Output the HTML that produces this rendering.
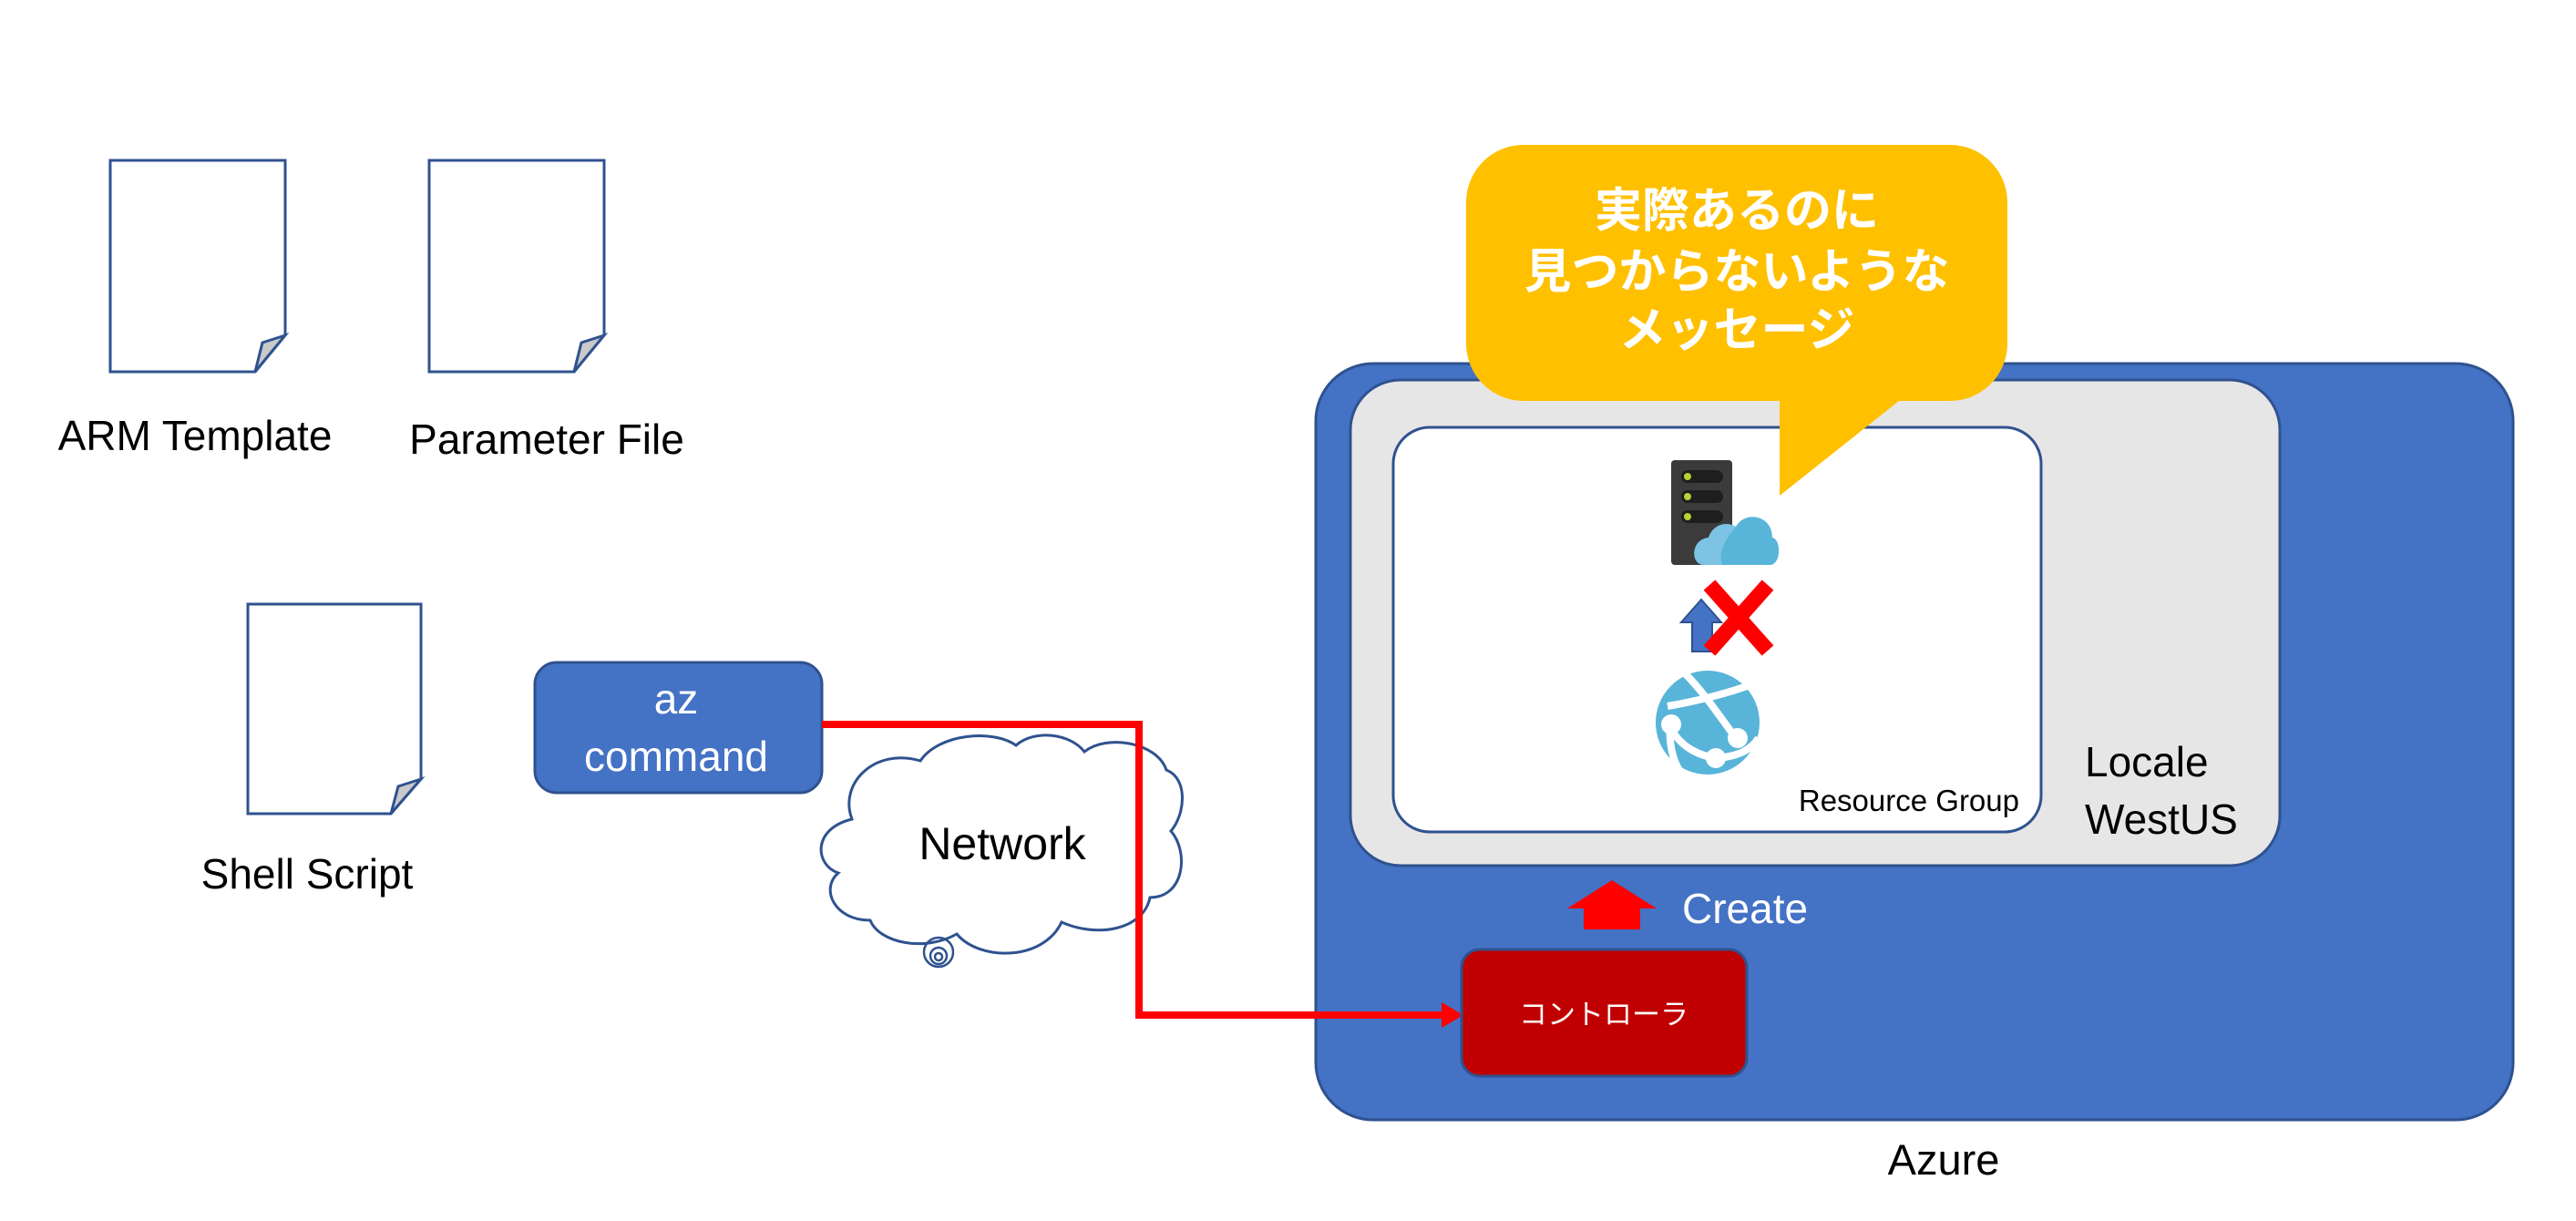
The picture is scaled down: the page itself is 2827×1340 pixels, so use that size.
<!DOCTYPE html>
<html><head><meta charset="utf-8"><style>
html,body{margin:0;padding:0;background:#fff;}
svg{display:block;}
text{font-family:"Liberation Sans","Noto Sans CJK JP",sans-serif;}
</style></head><body>
<svg width="2827" height="1340" viewBox="0 0 2827 1340" xmlns="http://www.w3.org/2000/svg">
<!-- documents -->
<g fill="#fff" stroke="#2F528F" stroke-width="3">
  <path d="M121,176 H313 V368 L280,408 H121 Z"/>
  <path d="M471,176 H663 V368 L630,408 H471 Z"/>
  <path d="M272,663 H462 V855 L429,893 H272 Z"/>
</g>
<g fill="#c9c9c9" stroke="#2F528F" stroke-width="3">
  <path d="M313,368 L288,376 L280,408 Z"/>
  <path d="M663,368 L638,376 L630,408 Z"/>
  <path d="M462,855 L437,863 L429,893 Z"/>
</g>
<g font-size="46" fill="#000" text-anchor="middle">
  <text x="214" y="494">ARM Template</text>
  <text x="600" y="498">Parameter File</text>
  <text x="337" y="975">Shell Script</text>
</g>
<!-- az command -->
<rect x="587" y="727" width="315" height="143" rx="24" fill="#4472C4" stroke="#2F528F" stroke-width="3"/>
<g font-size="46" fill="#fff" text-anchor="middle">
  <text x="742" y="783">az</text>
  <text x="742" y="846">command</text>
</g>
<!-- cloud -->
<path d="M935,899 C920,860 960,820 1010,835 C1030,805 1090,800 1115,818 C1135,800 1175,805 1190,825 C1215,805 1270,815 1280,845 C1305,855 1300,895 1285,912 C1305,935 1300,985 1262,985 C1255,1020 1205,1030 1165,1012 C1145,1055 1075,1055 1050,1025 C1015,1045 965,1035 955,1010 C915,1010 900,975 920,958 C895,950 890,910 935,899 Z" fill="#fff" stroke="#2F528F" stroke-width="3"/>
<g fill="none" stroke="#2F528F" stroke-width="2.5">
  <circle cx="1030" cy="1045" r="16"/><circle cx="1030" cy="1049" r="9"/><circle cx="1030" cy="1050" r="4"/>
</g>
<text x="1100" y="943" font-size="50" text-anchor="middle" fill="#000">Network</text>
<!-- Azure -->
<rect x="1444" y="399" width="1314" height="830" rx="63" fill="#4472C4" stroke="#2F528F" stroke-width="3"/>
<rect x="1482" y="417" width="1020" height="533" rx="55" fill="#E7E6E6" stroke="#2F528F" stroke-width="3"/>
<rect x="1529" y="469" width="711" height="444" rx="40" fill="#fff" stroke="#2F528F" stroke-width="3"/>
<text x="2216" y="890" font-size="33" text-anchor="end" fill="#000">Resource Group</text>
<g font-size="46" fill="#000"><text x="2288" y="852">Locale</text><text x="2288" y="915">WestUS</text></g>
<!-- red line -->
<polyline points="902,795 1250,795 1250,1114 1585,1114" fill="none" stroke="#FF0000" stroke-width="8"/>
<path d="M1582,1100 L1606,1114 L1582,1128 Z" fill="#FF0000"/>
<!-- create -->
<path d="M1720,997 L1769,966 L1818,997 L1800,997 L1800,1020 L1738,1020 L1738,997 Z" fill="#FF0000"/>
<text x="1846" y="1013" font-size="46" fill="#fff">Create</text>
<!-- controller -->
<rect x="1604" y="1042" width="313" height="139" rx="20" fill="#C00000" stroke="#2F528F" stroke-width="3"/>
<text x="1760" y="1124" font-size="31" text-anchor="middle" fill="#fff">コントローラ</text>
<text x="2133" y="1289" font-size="47" text-anchor="middle" fill="#000">Azure</text>
<!-- callout -->
<path d="M1672,159 H2140 A63,63 0 0 1 2203,222 V377 A63,63 0 0 1 2140,440 H2084 L1953,544 L1953,440 H1672 A63,63 0 0 1 1609,377 V222 A63,63 0 0 1 1672,159 Z" fill="#FFC000"/>
<g font-size="52" font-weight="bold" fill="#fff" text-anchor="middle">
  <text x="1906" y="249">実際あるのに</text>
  <text x="1906" y="316">見つからないような</text>
  <text x="1906" y="380">メッセージ</text>
</g>
<!-- server -->
<rect x="1834" y="505" width="67" height="115" rx="4" fill="#3b3b3b"/>
<g fill="#1e1e1e"><rect x="1845" y="516" width="46" height="14" rx="7"/><rect x="1845" y="538" width="46" height="14" rx="7"/><rect x="1845" y="560" width="46" height="14" rx="7"/></g>
<g fill="#b4d334"><circle cx="1852" cy="523" r="4"/><circle cx="1852" cy="545" r="4"/><circle cx="1852" cy="567" r="4"/></g>
<path d="M1870,620 C1855,620 1855,592 1875,590 C1880,575 1895,572 1905,578 C1915,560 1945,565 1945,590 C1955,592 1955,620 1942,620 Z" fill="#59b4d9"/>
<path d="M1870,620 C1855,620 1855,592 1875,590 C1880,575 1895,572 1905,578 C1895,590 1885,605 1890,620 Z" fill="#7dc3e3"/>
<!-- arrow & X -->
<path d="M1845,683 L1867,658 L1889,683 L1879,683 L1879,715 L1857,715 L1857,683 Z" fill="#4472C4" stroke="#2F528F" stroke-width="2"/>
<g stroke="#FF0000" stroke-width="17"><line x1="1876" y1="642" x2="1940" y2="714"/><line x1="1940" y1="642" x2="1876" y2="714"/></g>
<!-- globe -->
<circle cx="1874" cy="793" r="57" fill="#59b4d9"/>
<g stroke="#fff" stroke-width="8" fill="none">
  <path d="M1850,740 C1870,760 1890,790 1905,810"/>
  <path d="M1830,775 C1860,770 1900,760 1925,750"/>
  <path d="M1834,800 C1845,820 1865,830 1885,832 C1905,830 1920,825 1930,810"/>
  <path d="M1834,790 C1830,810 1835,835 1845,848"/>
</g>
<g fill="#fff"><circle cx="1834" cy="795" r="11"/><circle cx="1907" cy="810" r="11"/><circle cx="1883" cy="832" r="11"/></g>
</svg>
</body></html>
